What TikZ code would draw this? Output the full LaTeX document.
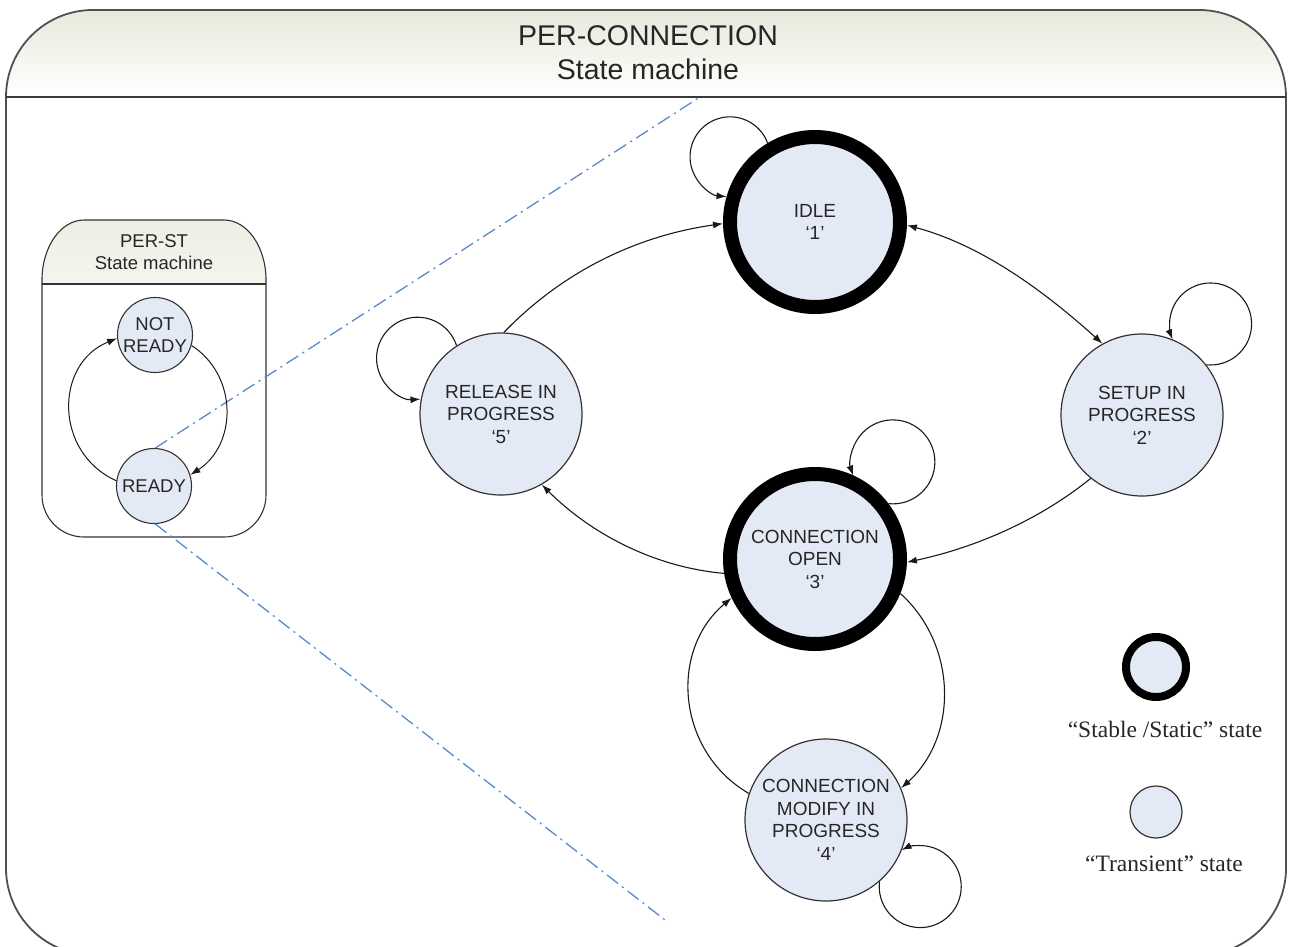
\documentclass[tikz,border=0pt]{standalone}
\usepackage{fontspec}
\setmainfont{Liberation Sans}
\newfontfamily\legendserif{Liberation Serif}
\usetikzlibrary{arrows.meta}
\definecolor{statefill}{HTML}{E4EAF5}
\definecolor{framegray}{HTML}{505050}
\definecolor{headtop}{HTML}{E8E8DC}
\definecolor{smallhead}{HTML}{EEEEE4}
\definecolor{zoomblue}{HTML}{5B8AC6}
\begin{document}
\begin{tikzpicture}[x=1pt,y=1pt,
  stablestate/.style={circle, draw=black, line width=14pt, outer sep=7pt,
    minimum size=170pt, inner sep=0pt, fill=statefill, align=center,
    font=\fontsize{19}{22.5}\selectfont, text=black!85},
  transstate/.style={circle, draw=black!80, line width=1.2pt, outer sep=0.6pt,
    minimum size=162pt, inner sep=0pt, fill=statefill, align=center,
    font=\fontsize{19}{22.5}\selectfont, text=black!85},
  ministate/.style={circle, draw=black!80, line width=1.1pt, outer sep=0.55pt,
    minimum size=75pt, inner sep=0pt, fill=statefill, align=center,
    font=\fontsize{18.5}{22}\selectfont, text=black!85},
  trans/.style={-{Latex[length=10pt,width=7pt]}, line width=1.1pt, draw=black!90},
  bitrans/.style={{Latex[length=10pt,width=7pt]}-{Latex[length=10pt,width=7pt]},
    line width=1.1pt, draw=black!90},
  zoomline/.style={draw=zoomblue, line width=1.3pt,
    dash pattern=on 14pt off 5pt on 2pt off 5pt},
  legendtext/.style={font=\legendserif\fontsize{23.5}{28}\selectfont, text=black!85},
  titletext/.style={align=center, text=black!85}
]
\useasboundingbox (0,0) rectangle (1290,-947);
\clip (0,0) rectangle (1290,-947);

% outer frame with shaded title band
\shade[top color=headtop, bottom color=white]
  (6,-97) arc[start angle=180, end angle=90, radius=87] -- (1199,-10)
  arc[start angle=90, end angle=0, radius=87] -- cycle;
\draw[framegray, line width=1.8pt]
  (6,-97) arc[start angle=180, end angle=90, radius=87] -- (1199,-10)
  arc[start angle=90, end angle=0, radius=87] -- (1286,-868)
  arc[start angle=0, end angle=-90, radius=87] -- (93,-955)
  arc[start angle=270, end angle=180, radius=87] -- cycle;
\draw[framegray!70!black, line width=2.5pt] (6,-97) -- (1286,-97);
\node[titletext, font=\fontsize{28.5}{34}\selectfont] (maintitle) at (648,-53)
  {PER-CONNECTION\\State machine};

% small PER-ST machine box
\shade[top color=smallhead, bottom color=smallhead!60!white]
  (42,-284) -- (42,-280) arc[start angle=180, end angle=90, x radius=42, y radius=60]
  -- (224,-220) arc[start angle=90, end angle=0, x radius=42, y radius=60]
  -- (266,-284) -- cycle;
\draw[black!80, line width=1.1pt]
  (42,-280) arc[start angle=180, end angle=90, x radius=42, y radius=60]
  -- (224,-220) arc[start angle=90, end angle=0, x radius=42, y radius=60]
  -- (266,-495) arc[start angle=0, end angle=-90, x radius=42, y radius=42]
  -- (84,-537) arc[start angle=270, end angle=180, x radius=42, y radius=42] -- cycle;
\draw[black!80, line width=1.1pt] (42,-284) -- (266,-284);
\node[titletext, font=\fontsize{18.5}{22}\selectfont] (subtitle) at (154,-252)
  {PER-ST\\State machine};

\node[ministate] (notready) at (155,-335) {NOT\\READY};
\node[ministate] (ready) at (154,-486) {READY};

% zoom guide lines
\coordinate (zoomtop) at (700,-97);
\coordinate (zoombot) at (665,-920);
\draw[zoomline] (ready.88) -- (zoomtop);
\draw[zoomline] (ready.272) -- (zoombot);

\draw[trans, line width=1pt] (ready.172) to[out=156, in=202, looseness=1.22] (notready.185);
\draw[trans, line width=1pt] (notready.344) to[out=-33, in=33, looseness=1.10] (ready.17);

% connection states
\node[stablestate] (idle) at (815,-222) {IDLE\\‘1’};
\node[transstate] (setup) at (1142,-415) {SETUP IN\\PROGRESS\\‘2’};
\node[stablestate] (open) at (815,-559) {CONNECTION\\OPEN\\‘3’};
\node[transstate] (modify) at (826,-820) {CONNECTION\\MODIFY IN\\PROGRESS\\‘4’};
\node[transstate] (release) at (501,-414) {RELEASE IN\\PROGRESS\\‘5’};

% transitions
\draw[trans] (release.88) to[out=46, in=188, looseness=0.9] (idle.181);
\draw[bitrans] (idle.358) to[out=-15, in=138, looseness=0.87] (setup.119);
\draw[trans] (setup.231) to[out=219, in=12, looseness=0.86] (open.358);
\draw[trans] (open.189) to[out=175, in=-45, looseness=0.88] (release.300);
\draw[trans] (open.338) to[out=-42, in=42, looseness=1.01] (modify.23);
\draw[trans] (modify.161) to[out=150, in=220, looseness=1.08] (open.205);

% self transitions
\draw[trans] (idle.121) arc[start angle=20, delta angle=245, radius=40];
\draw[trans] (setup.38) arc[start angle=264, delta angle=298, radius=41];
\draw[trans] (open.37) arc[start angle=264, delta angle=295, radius=42];
\draw[trans] (modify.311) arc[start angle=173, delta angle=304, radius=41];
\draw[trans] (release.123) arc[start angle=18, delta angle=256, radius=41];

% legend
\node[circle, draw=black, line width=8pt, outer sep=4pt, minimum size=60pt,
  fill=statefill] (stablekey) at (1156,-667) {};
\node[legendtext] (stablelabel) at (1165,-729) {“Stable /Static” state};
\node[circle, draw=black!80, line width=1.2pt, minimum size=52pt,
  fill=statefill] (transkey) at (1156,-812) {};
\node[legendtext] (translabel) at (1164,-864) {“Transient” state};
\end{tikzpicture}
\end{document}
